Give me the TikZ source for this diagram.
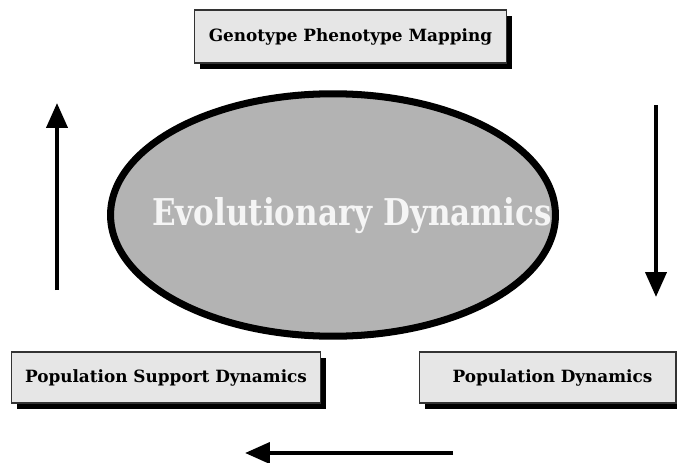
\documentclass[tikz,border=0pt]{standalone}
\usepackage{fontspec}
\setmainfont{DejaVu Serif}
\usetikzlibrary{arrows.meta,shadows,shapes.geometric}
\definecolor{boxgray}{HTML}{E6E6E6}
\definecolor{ovalgray}{HTML}{B3B3B3}
\begin{document}
\begin{tikzpicture}[x=0.02cm,y=-0.02cm,
  stagebox/.style={draw=black!80,line width=0.6pt,fill=boxgray,inner sep=0pt,
    font=\bfseries\fontsize{9.6}{11}\selectfont,
    drop shadow={shadow xshift=0.11cm,shadow yshift=-0.12cm,fill=black,opacity=1}},
  flow/.style={line width=2.3pt,-{Triangle[length=0.5cm,width=0.42cm]}}]
\useasboundingbox (0,0) rectangle (677,463);
\begin{scope}
\clip (0,0) rectangle (677,463);
\node[draw,line width=4pt,fill=ovalgray,ellipse,minimum width=8.9cm,minimum height=4.85cm] (evo) at (333,215) {};
\node[text=white!96!black,font=\bfseries\fontsize{21}{24}\selectfont] (evotext) at (352,216) {\scalebox{0.84}[1]{Evolutionary Dynamics}};
\node[stagebox,minimum width=6.26cm,minimum height=1.06cm] (gpm) at (350.5,36.5) {Genotype Phenotype Mapping};
\node[stagebox,minimum width=6.2cm,minimum height=1.02cm] (psd) at (166,377.5) {Population Support Dynamics};
\node[stagebox,minimum width=5.14cm,minimum height=1.02cm,text width=5.14cm,align=center] (pd) at (547.5,377.5) {\hspace*{0.2cm}Population Dynamics};
\end{scope}
% arrows around the oval
\coordinate (l1) at (57,290); \coordinate (l2) at (57,103);
\coordinate (r1) at (656,105); \coordinate (r2) at (656,297);
\coordinate (b1) at (453,453); \coordinate (b2) at (245,453);
\draw[flow] (l1) -- (l2);
\draw[flow] (r1) -- (r2);
\draw[flow] (b1) -- (b2);
\end{tikzpicture}
\end{document}
